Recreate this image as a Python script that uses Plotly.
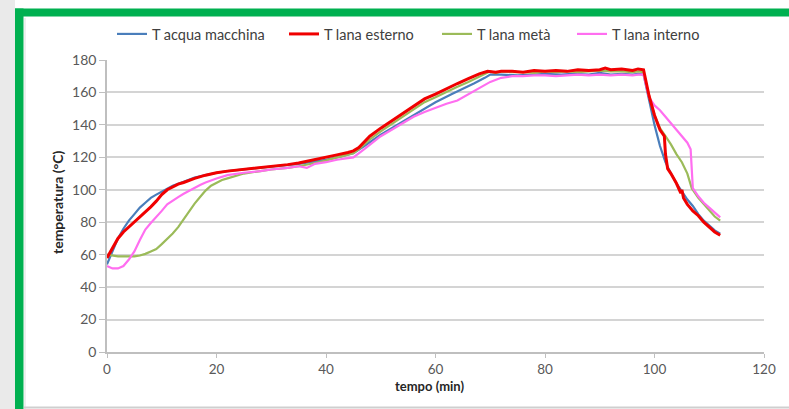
import plotly.graph_objects as go

# ---------------- data ----------------
series_names = ["T acqua macchina", "T lana esterno", "T lana metà", "T lana interno"]

blue_x = [0, 0.5, 1, 1.5, 2, 3, 4, 5, 6, 7, 8, 9, 10, 11, 12, 14, 16, 18, 20, 22, 25, 28, 30, 33, 35, 38, 40, 42, 44, 45,
          47, 50, 53, 55, 58, 60, 63, 65, 67, 69, 70, 72, 75, 78, 80, 83, 85, 88, 90, 92, 94, 96, 97, 98,
          99, 100, 101, 102, 103, 104, 105, 106, 107, 108, 109, 110, 111, 112]
blue_y = [54, 58, 62, 66, 70, 76, 81, 85, 89, 92, 95, 97, 99, 101, 102.5, 105, 107.5, 109, 110.5, 111.5, 112.5, 113.5, 114, 115, 116, 117.5, 118.5, 120, 121.5, 122.5,
          127, 134, 140, 144, 150, 154, 159, 162, 165.5, 169, 171, 171, 170.5, 171, 171.5, 171, 171.5, 171, 172, 171, 171.5, 171, 171.5, 171,
          155, 140, 127, 117, 110, 104, 99, 94, 90, 85, 81, 78, 75, 73]

red_x = [0, 0.5, 1, 2, 3, 4, 5, 6, 7, 8, 9, 10, 11, 12, 13, 14, 16, 18, 20, 22, 25, 28, 30, 33, 35, 38, 40, 42, 44, 45,
         46, 48, 50, 52, 54, 56, 58, 60, 62, 64, 66, 68, 69.5, 71, 72, 74, 76, 78, 80, 82, 84, 86, 88, 90, 91, 92, 94, 96, 97, 98,
         99, 100, 101, 101.8, 102, 102.4, 103, 104, 104.8, 105, 105.3, 106, 107, 108, 109, 110, 111, 112]
red_y = [58, 61, 64, 70, 74, 77, 80, 83, 86, 89.5, 93, 97, 100, 102, 103.5, 104.5, 107, 109, 110.5, 111.5, 112.5, 113.5, 114.5, 115.5, 116.5, 118.5, 120, 121.5, 123, 124,
         126, 133, 138, 142.5, 147, 152, 156, 159, 162.5, 165.5, 168.5, 171.5, 173, 172.5, 173, 173, 172.5, 173.5, 173, 173.5, 173, 174, 173.5, 174, 175, 174, 174.5, 173.5, 174.5, 174,
         158, 146, 137, 133, 122, 113, 110, 104, 98, 100, 95, 91, 87, 84, 80, 77, 74, 72]

green_x = [0, 1, 2, 3, 4, 5, 6, 7, 8, 9, 10, 11, 12, 13, 14, 15, 16, 17, 18, 19, 20, 21, 22, 23, 25, 28, 30, 33, 35, 38, 40, 42, 44, 45,
           46, 48, 50, 52, 54, 56, 58, 60, 62, 64, 66, 68, 69, 70, 71, 72, 74, 76, 78, 80, 82, 84, 86, 88, 90, 92, 94, 96, 97, 98,
           99, 100, 101, 102, 103, 104, 105, 106, 106.8, 108, 109, 110, 111, 112]
green_y = [60, 59.5, 59, 59, 59, 59, 59.5, 60.5, 62, 63.5, 66.5, 69.5, 73, 77, 82, 86.5, 91.5, 95.5, 99.5, 102.5, 104.5, 106, 107, 108, 110, 111.5, 112.5, 113.5, 114.5, 116.5, 118, 120, 121.5, 122.5,
           125, 131, 136, 140.5, 145, 149.5, 154, 157, 160.5, 163.5, 166.5, 170, 171.5, 173, 172, 173, 172.5, 172.5, 172, 173, 172.5, 173, 172.5, 173, 173.5, 173, 173, 172.5, 173, 172.5,
           158, 146, 138, 133, 128, 122, 117, 110, 101, 95, 91, 87, 83.5, 81]

pink_x = [0, 1, 2, 3, 4, 5, 6, 7, 8, 9, 10, 11, 12, 13, 14, 15, 16, 17, 18, 20, 22, 25, 28, 30, 33, 35, 36.5, 38, 40, 42, 44, 45,
          47, 49, 50, 52, 54, 56, 58, 60, 62, 64, 66, 68, 70, 72, 74, 76, 78, 80, 82, 84, 86, 88, 90, 92, 94, 96, 97, 98,
          99, 100, 101, 102, 103, 104, 105, 106, 106.6, 107, 108, 109, 110, 111, 112]
pink_y = [53, 51.5, 51.5, 53, 57, 62, 69, 75.5, 79.5, 83, 87, 91, 93.5, 95.5, 97.5, 99.5, 101.5, 103, 104.5, 107, 109, 110.5, 111.5, 112.5, 113.5, 114.5, 113.5, 116, 117, 118.5, 119.5, 120,
          125, 130.5, 133, 137, 141, 145, 148, 150.5, 153, 155, 159, 163, 166.5, 169, 170, 170, 170.5, 170.5, 170, 170.5, 171, 170.5, 171, 170.5, 171, 170.5, 171, 171,
          157, 152, 149, 145, 141, 137, 133, 129, 125, 101, 96, 92, 89, 86, 83]

x_ticks = [0, 20, 40, 60, 80, 100, 120]
y_ticks = [0, 20, 40, 60, 80, 100, 120, 140, 160, 180]
x_title = "tempo (min)"
y_title = "temperatura (°C)"

for a, b in [(blue_x, blue_y), (red_x, red_y), (green_x, green_y), (pink_x, pink_y)]:
    if len(a) != len(b):
        raise ValueError(f"length mismatch {len(a)} {len(b)}")

# ---------------- figure ----------------
W, H = 789, 409
L, R, T, B = 107, 25, 60, 57
pw, ph = W - L - R, H - T - B


def px(xp):
    return (xp - L) / pw


def py(yp):
    return (H - B - yp) / ph


fig = go.Figure()
# draw order: blue, green, pink, red (red on top); each entry gets its own legend box
traces = [
    (blue_x, blue_y, series_names[0], "#4A7EBB", 2.2, "legend"),
    (green_x, green_y, series_names[2], "#9BBB59", 2.2, "legend3"),
    (pink_x, pink_y, series_names[3], "#FF6EF0", 2.2, "legend4"),
    (red_x, red_y, series_names[1], "#F00000", 3, "legend2"),
]
for xs, ys, name, col, w, leg in traces:
    fig.add_trace(go.Scatter(x=xs, y=ys, mode="lines", name=name,
                             line=dict(color=col, width=w), legend=leg))

shapes = [
    dict(type="rect", xref="paper", yref="paper", x0=px(0), x1=px(15), y0=py(H), y1=py(0),
         fillcolor="#EAEAEA", line=dict(width=0), layer="below"),
    dict(type="rect", xref="paper", yref="paper", x0=px(15), x1=px(W), y0=py(16.5), y1=py(8.5),
         fillcolor="#00B050", line=dict(width=0), layer="below"),
    dict(type="rect", xref="paper", yref="paper", x0=px(15), x1=px(23.5), y0=py(H), y1=py(8.5),
         fillcolor="#00B050", line=dict(width=0), layer="below"),
    dict(type="line", xref="paper", yref="paper", x0=px(25), x1=px(25), y0=py(H), y1=py(18),
         line=dict(color="#DDDDDD", width=1), layer="below"),
    dict(type="line", xref="paper", yref="paper", x0=px(24), x1=px(W), y0=py(407.5), y1=py(407.5),
         line=dict(color="#CFCFCF", width=2), layer="below"),
]


def leg(start_px):
    return dict(orientation="h", x=px(start_px), xanchor="left", y=py(34), yanchor="middle",
                font=dict(size=14.5, color="#404040"), bgcolor="rgba(0,0,0,0)",
                itemwidth=30)


fig.update_layout(
    width=W, height=H,
    margin=dict(l=L, r=R, t=T, b=B, autoexpand=False),
    paper_bgcolor="white", plot_bgcolor="rgba(0,0,0,0)",
    font=dict(family="Lato, 'Open Sans', sans-serif", color="#595959", size=12),
    shapes=shapes,
    showlegend=True,
    legend=leg(112), legend2=leg(284), legend3=leg(437), legend4=leg(572),
    xaxis=dict(range=[0, 120], tickvals=x_ticks, ticktext=[str(v) for v in x_ticks],
               showgrid=False, zeroline=False, showline=True, linecolor="#BFBFBF", linewidth=1.5,
               ticks="outside", ticklen=4, tickcolor="#BFBFBF", tickfont=dict(size=13.5, color="#595959"),
               automargin=False, fixedrange=True),
    yaxis=dict(range=[0, 180], tickvals=y_ticks, ticktext=[str(v) for v in y_ticks],
               showgrid=True, gridcolor="#D4D4D4", gridwidth=1.5, zeroline=False,
               showline=True, linecolor="#BFBFBF", linewidth=1.5,
               ticks="outside", ticklen=6, tickcolor="#BFBFBF", tickfont=dict(size=14, color="#595959"),
               automargin=False, fixedrange=True),
    annotations=[
        dict(text="<b>" + x_title + "</b>", xref="paper", yref="paper", x=px(429), y=py(386),
             xanchor="center", yanchor="middle", showarrow=False,
             font=dict(size=13, color="#262626")),
        dict(text="<b>" + y_title + "</b>", xref="paper", yref="paper", x=px(58), y=py(202),
             xanchor="center", yanchor="middle", showarrow=False, textangle=-90,
             font=dict(size=14, color="#262626")),
    ],
)

fig.write_html("out.html", config={"displayModeBar": False},
               post_script="document.body.style.margin='0';document.body.style.overflow='hidden';")
